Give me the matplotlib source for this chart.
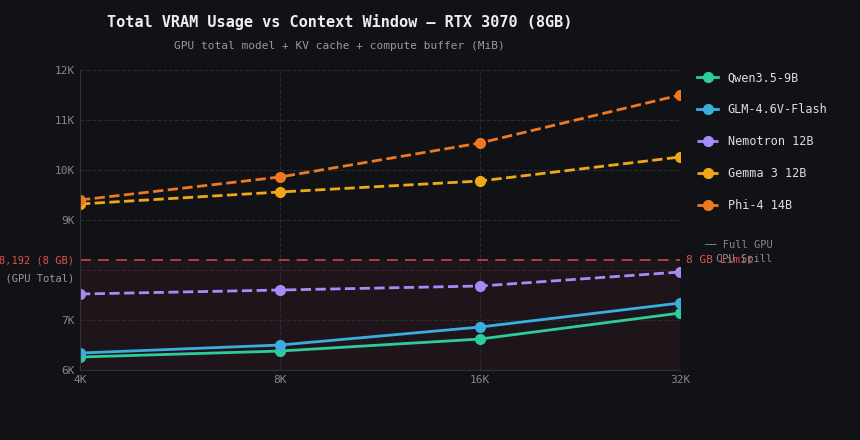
import matplotlib
matplotlib.use("Agg")
import matplotlib.pyplot as plt
from matplotlib.ticker import FuncFormatter

plt.rcParams['font.family'] = 'DejaVu Sans Mono'

contexts = ["4K", "8K", "16K", "32K"]
qwen = [6260, 6380, 6620, 7140]
glm = [6340, 6500, 6860, 7340]
nemotron = [7520, 7600, 7680, 7960]
gemma = [9320, 9560, 9780, 10260]
phi = [9400, 9860, 10540, 11500]
gpu_limit = 8192
yticks = [6000, 7000, 9000, 10000, 11000, 12000]

bg = "#111216"
fig = plt.figure(figsize=(8.6, 4.4), dpi=100, facecolor=bg)
ax = fig.add_axes([0.093, 0.159, 0.698, 0.682], facecolor=bg)

x = range(len(contexts))
ax.plot(x, qwen, color="#2ecc9a", lw=2, marker="o", ms=7, label="Qwen3.5-9B")
ax.plot(x, glm, color="#3aaee0", lw=2, marker="o", ms=7, label="GLM-4.6V-Flash")
ax.plot(x, nemotron, color="#a78bfa", lw=2, ls="--", marker="o", ms=7, label="Nemotron 12B")
ax.plot(x, gemma, color="#f0a818", lw=2, ls="--", marker="o", ms=7, label="Gemma 3 12B")
ax.plot(x, phi, color="#f07820", lw=2, ls="--", marker="o", ms=7, label="Phi-4 14B")

ax.axhline(gpu_limit, color="#e05050", ls=(0, (6, 4)), lw=1.3, alpha=0.8)
ax.axhspan(6000, gpu_limit, color="#e05050", alpha=0.06)
ax.text(3.03, gpu_limit, "8 GB Limit", color="#e05050", fontsize=8, va="center")
ax.text(3.12, 8500, "── Full GPU", color="#888", fontsize=7.5, va="center")
ax.text(3.18, 8220, "CPU Spill", color="#888", fontsize=7.5, va="center")
ax.text(-0.03, gpu_limit, "8,192 (8 GB)", color="#e05050", fontsize=7.5, va="center", ha="right")
ax.text(-0.03, 7830, "8,192 (GPU Total)", color="#999", fontsize=7.5, va="center", ha="right")

ax.set_xlim(0, 3)
ax.set_ylim(6000, 12000)
ax.set_xticks(list(x))
ax.set_xticklabels(contexts)
ax.set_yticks(yticks)
ax.yaxis.set_major_formatter(FuncFormatter(lambda v, p: f"{int(v/1000)}K"))
ax.set_yticks([8000], minor=True)
ax.tick_params(colors="#888", labelsize=8, length=0)
ax.tick_params(which="minor", length=0)
ax.grid(True, which="both", color="#2a2b30", ls="--", lw=0.8)
for s in ["top", "right"]:
    ax.spines[s].set_visible(False)
for s in ["left", "bottom"]:
    ax.spines[s].set_color("#333")
ax.set_ylabel("VRAM (MiB)", color="#888", fontsize=9, labelpad=48)

leg = ax.legend(loc="upper left", bbox_to_anchor=(1.01, 1.03), frameon=False,
                labelcolor="#ddd", fontsize=8.5, labelspacing=1.6, handlelength=1.8)

fig.text(0.395, 0.95, "Total VRAM Usage vs Context Window — RTX 3070 (8GB)",
         color="#eee", fontsize=11, fontweight="bold", ha="center", va="center")
fig.text(0.395, 0.895, "GPU total model + KV cache + compute buffer (MiB)",
         color="#999", fontsize=8, ha="center", va="center")

fig.savefig("out.png", facecolor=bg)
